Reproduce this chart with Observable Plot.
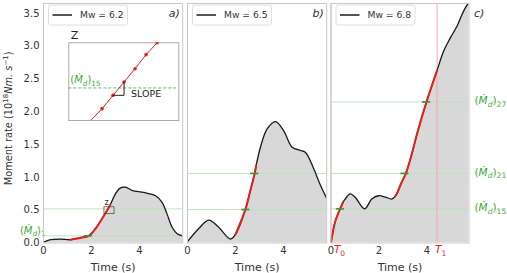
<!DOCTYPE html>
<html><head><meta charset="utf-8">
<script src="https://cdn.jsdelivr.net/npm/d3@7"></script>
<script src="https://cdn.jsdelivr.net/npm/@observablehq/plot@0.6"></script>
<style>
body{margin:0;background:#fff;}
#chart{position:relative;width:507px;height:273px;font-family:"DejaVu Sans",sans-serif;}
#chart svg{position:absolute;left:0;top:0;overflow:visible;}
</style></head><body><div id="chart"></div>
<script>
// ---------- data ----------
const panelLetters = ["a)", "b)", "c)"];
const magnitudes = ["Mw = 6.2", "Mw = 6.5", "Mw = 6.8"];
const xTicks = [0, 2, 4];
const yTicks = [0, 0.5, 1.0, 1.5, 2.0, 2.5, 3.0, 3.5];

const timeA = [0, 0.29, 0.71, 1.12, 1.54, 1.89, 2.17, 2.44, 2.72, 2.78, 3.0, 3.21, 3.42, 3.7, 4.18, 4.67, 4.94, 5.15, 5.36, 5.57, 5.8];
const rateA = [0.01, 0.05, 0.06, 0.05, 0.08, 0.11, 0.22, 0.37, 0.54, 0.58, 0.75, 0.84, 0.85, 0.80, 0.77, 0.72, 0.62, 0.44, 0.24, 0.14, 0.11];
const timeB = [0, 0.47, 0.89, 1.3, 1.79, 2.0, 2.42, 2.62, 2.8, 2.86, 3.04, 3.32, 3.67, 4.01, 4.36, 4.71, 4.92, 5.26, 5.54, 5.8];
const rateB = [0.02, 0.22, 0.35, 0.24, 0.06, 0.13, 0.52, 0.80, 1.06, 1.18, 1.46, 1.74, 1.85, 1.71, 1.46, 1.41, 1.38, 1.13, 0.88, 0.68];
const timeC = [0, 0.17, 0.38, 0.5, 0.59, 0.8, 1.0, 1.4, 1.7, 1.98, 2.26, 2.53, 2.67, 2.74, 2.95, 3.12, 3.37, 3.59, 3.98, 4.42, 4.7, 4.98, 5.26, 5.47, 5.68, 5.75];
const rateC = [0.0, 0.32, 0.52, 0.62, 0.67, 0.75, 0.70, 0.52, 0.67, 0.72, 0.70, 0.67, 0.71, 0.75, 0.93, 1.06, 1.36, 1.67, 2.15, 2.63, 2.93, 3.13, 3.31, 3.49, 3.63, 3.645];

const redStartA = [1.12], redEndA = [2.78];
const redStartB = [2.0], redEndB = [2.86];
const redStartC = [0, 2.67], redEndC = [0.5, 4.42];

const levelsA = [0.11, 0.52];
const levelsB = [0.51, 1.06];
const levelsC = [0.52, 1.06, 2.15];
const levelLabelA = ["(*Ṁ*_{d})_{1}"];
const levelLabelsC = ["(*Ṁ*_{d})_{15}", "(*Ṁ*_{d})_{21}", "(*Ṁ*_{d})_{27}"];

const markTimeA = [1.88], markRateA = [0.11];
const markTimeB = [2.43, 2.8], markRateB = [0.51, 1.06];
const markTimeC = [0.39, 3.08, 3.98], markRateC = [0.52, 1.06, 2.15];

const Ttimes = [0, 4.42];
const Tlabels = ["*T*_{0}", "*T*_{1}"];

// zoom box (panel a) and inset content
const zoomT = [2.54, 2.96];
const zoomV = [0.44, 0.545];
const insetT = [2.624, 2.667, 2.709, 2.751, 2.793, 2.835, 2.877];
const insetV = [0.44, 0.456, 0.474, 0.492, 0.510, 0.529, 0.545];
const insetLevel = [0.484];
const slopeT = [2.709, 2.751, 2.751];
const slopeV = [0.474, 0.474, 0.492];

const yLabel = "Moment rate (10^{18}*Nm. s*^{−1})";
const xLabel = "Time (s)";

// ---------- layout ----------
const W = 507, H = 273;
const GREEN_LINE = "#b9e3b9", GREEN = "#3aaa3a", GREEN_MARK = "#3a973a", RED = "#e5211c";
const layouts = [
  {L: 43, R: 182.2, xMax: 5.8},
  {L: 187, R: 326.2, xMax: 5.8},
  {L: 330.5, R: 468.5, xMax: 5.75}
];
const baseStyle = {background: "none", fontFamily: "DejaVu Sans, sans-serif", fontSize: "10px", color: "#333", overflow: "visible"};

function zip(t, v) { return t.map((x, i) => ({t: x, v: v[i]})); }

function makePanel(i, time, rate, rs, re, levels, mt, mr, extra) {
  const {L, R, xMax} = layouts[i];
  const pts = zip(time, rate);
  const marks = [
    Plot.areaY(pts, {x: "t", y: "v", fill: "#d8d8d8", curve: "catmull-rom", clip: true}),
    Plot.ruleY(levels, {stroke: GREEN_LINE, strokeWidth: 0.9}),
    ...(extra.before || []),
    Plot.line(pts, {x: "t", y: "v", stroke: "#1a1a1a", strokeWidth: 1.3, curve: "catmull-rom", clip: true}),
    ...rs.map((a, k) => Plot.line(pts.filter(d => d.t >= a - 1e-9 && d.t <= re[k] + 1e-9),
      {x: "t", y: "v", stroke: RED, strokeWidth: 2, curve: "catmull-rom", clip: true})),
    Plot.ruleY(zip(mt, mr), {y: "v", x1: d => d.t - 0.17, x2: d => d.t + 0.17, stroke: GREEN_MARK, strokeWidth: 1.7}),
    ...(extra.after || []),
    Plot.frame({stroke: "#c9c9c9", strokeWidth: 1}),
    Plot.text([xLabel], {frameAnchor: "bottom", textAnchor: "middle", dy: 24, lineAnchor: "middle", fontSize: 11}),
    Plot.text([panelLetters[i]], i === 2
      ? {frameAnchor: "top-right", textAnchor: "start", dx: 5, dy: 10, lineAnchor: "middle", fontStyle: "italic", fontSize: 11}
      : {frameAnchor: "top-right", textAnchor: "end", dx: -3, dy: 10, lineAnchor: "middle", fontStyle: "italic", fontSize: 11})
  ];
  if (i === 0) marks.push(Plot.text([yLabel], {frameAnchor: "left", textAnchor: "middle", rotate: -90, dx: -35, dy: -5, fontSize: 9.8}));
  const svg = Plot.plot({
    width: W, height: H,
    marginLeft: L, marginRight: W - R, marginTop: 3, marginBottom: 30.5,
    style: baseStyle,
    x: {domain: [0, xMax], ticks: xTicks, tickFormat: "d", tickSize: 0, tickPadding: 4, label: null},
    y: {domain: [0, 3.65], ticks: yTicks, tickFormat: ".1f", tickSize: 0, tickPadding: 4, label: null, axis: i === 0 ? "left" : null},
    marks
  });
  // legend (decoration)
  const g = d3.select(svg).append("g").attr("text-anchor", "start");
  g.append("rect").attr("x", L + 5.5).attr("y", 5).attr("width", 79).attr("height", 20).attr("rx", 2.5)
    .attr("fill", "white").attr("fill-opacity", 0.85).attr("stroke", "#dedede");
  g.append("line").attr("x1", L + 9.5).attr("x2", L + 29).attr("y1", 15).attr("y2", 15).attr("stroke", "#1a1a1a").attr("stroke-width", 1.5);
  g.append("text").attr("x", L + 37).attr("y", 15).attr("dy", "0.35em").attr("text-anchor", "start")
    .attr("font-size", 9.2).attr("fill", "#333").text(magnitudes[i]);
  return svg;
}

const svgA = makePanel(0, timeA, rateA, redStartA, redEndA, levelsA, markTimeA, markRateA, {
  after: [
    Plot.rect([0], {x1: () => zoomT[0], x2: () => zoomT[1], y1: () => zoomV[0], y2: () => zoomV[1], fill: "none", stroke: "#555", strokeWidth: 0.8}),
    Plot.text(["z"], {x: () => zoomT[0], y: () => zoomV[1], dy: -5, dx: 0, textAnchor: "start", fontSize: 8}),
    Plot.text(levelsA.slice(0, 1), {x: () => 0, y: d => d, text: () => levelLabelA[0], textAnchor: "end", dx: 2, dy: -5, fill: GREEN, fontSize: 10})
  ]
});
const svgB = makePanel(1, timeB, rateB, redStartB, redEndB, levelsB, markTimeB, markRateB, {});
const svgC = makePanel(2, timeC, rateC, redStartC, redEndC, levelsC, markTimeC, markRateC, {
  before: [Plot.ruleX(Ttimes, {stroke: "#f2a6a6", strokeWidth: 0.9})],
  after: [
    Plot.text(levelsC, {x: () => layouts[2].xMax, y: d => d, text: (d, i) => levelLabelsC[i], textAnchor: "start", dx: 5.5, dy: -1, fill: GREEN, fontSize: 10.5}),
    Plot.text(Ttimes.slice(0, 1), {x: d => d, y: () => 0, text: () => Tlabels[0], textAnchor: "middle", dx: 8.5, dy: 7, fill: RED, fontSize: 10.5}),
    Plot.text(Ttimes.slice(1), {x: d => d, y: () => 0, text: () => Tlabels[1], textAnchor: "middle", dx: 3.5, dy: 7, fill: RED, fontSize: 10.5})
  ]
});

// inset (zoom of panel a)
const insetPts = zip(insetT, insetV);
const svgInset = Plot.plot({
  width: W, height: H,
  marginLeft: 68.3, marginRight: W - 178.3, marginTop: 42.3, marginBottom: H - 120,
  style: baseStyle,
  x: {domain: zoomT, axis: null},
  y: {domain: zoomV, axis: null},
  marks: [
    Plot.frame({fill: "white", stroke: "#aaa", strokeWidth: 1}),
    Plot.ruleY(insetLevel, {stroke: "#49b849", strokeWidth: 0.9, strokeDasharray: "3,2"}),
    Plot.line(insetPts, {x: "t", y: "v", stroke: RED, strokeWidth: 1, clip: true}),
    Plot.dot(insetPts.slice(1), {x: "t", y: "v", r: 1.8, fill: RED, stroke: "none", clip: true}),
    Plot.line(zip(slopeT, slopeV), {x: "t", y: "v", stroke: "#222", strokeWidth: 1}),
    Plot.text(["SLOPE"], {x: () => slopeT[1], y: () => slopeV[0], dx: 7, dy: -1.5, textAnchor: "start", fontSize: 9.5, fill: "#222"}),
    Plot.text(insetLevel, {x: () => zoomT[0], y: d => d, text: () => "(*Ṁ*_{d})_{15}", dx: 1.5, dy: -8, textAnchor: "start", fill: GREEN, fontSize: 10}),
    Plot.text(["Z"], {frameAnchor: "top-left", textAnchor: "start", dx: 2, dy: -7, lineAnchor: "middle", fontSize: 11, fill: "#222"})
  ]
});

const chart = document.getElementById("chart");
[svgA, svgB, svgC, svgInset].forEach(s => chart.appendChild(s));

// rich text: *italic*, _{sub}, ^{sup}  (shifts done with dy in px)
const NS = "http://www.w3.org/2000/svg";
function rich(el) {
  const s = el.textContent;
  if (!/(\*|_\{|\^\{)/.test(s)) return;
  const fs = parseFloat(getComputedStyle(el).fontSize) || 10;
  const parts = s.split(/(_\{[^}]*\}|\^\{[^}]*\}|\*[^*]*\*)/g).filter(p => p !== "");
  el.textContent = "";
  let offset = 0;
  for (const p of parts) {
    const ts = document.createElementNS(NS, "tspan");
    let target = 0;
    if (p.startsWith("_{") || p.startsWith("^{")) {
      const c = p.slice(2, -1);
      ts.textContent = c;
      ts.setAttribute("font-size", (fs * 0.72).toFixed(2));
      target = p[0] === "_" ? fs * 0.25 : -fs * 0.38;
      if (/^[A-Za-z]+$/.test(c)) ts.setAttribute("font-style", "italic");
    } else if (p.startsWith("*")) {
      ts.textContent = p.slice(1, -1);
      ts.setAttribute("font-style", "italic");
    } else ts.textContent = p;
    if (target !== offset) ts.setAttribute("dy", (target - offset).toFixed(2));
    offset = target;
    el.appendChild(ts);
  }
}
chart.querySelectorAll("text").forEach(rich);
</script></body></html>
